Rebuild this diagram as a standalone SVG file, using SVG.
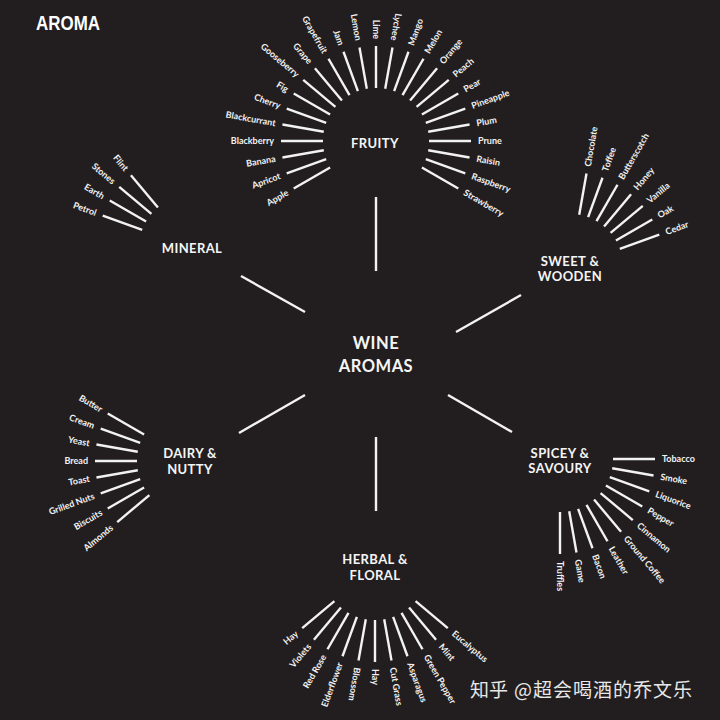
<svg xmlns="http://www.w3.org/2000/svg" width="720" height="720" viewBox="0 0 720 720">
<style>
.bg{fill:#221e1f}
line{stroke:#f2f2f2;stroke-width:2.4;stroke-linecap:butt}
.it{font-family:Lato,"Open Sans",sans-serif;font-weight:700;font-size:9px;fill:#f2f2f2}
.o text{text-anchor:start}
.i text{text-anchor:end}
.cat{font-family:Lato,"Open Sans",sans-serif;font-weight:700;font-size:13px;fill:#f5f5f5;text-anchor:middle;letter-spacing:0.4px}
.ctr{font-family:Lato,"Open Sans",sans-serif;font-weight:700;font-size:16.5px;fill:#f5f5f5;text-anchor:middle;letter-spacing:0.5px}
.wm{font-family:"Noto Sans CJK SC",sans-serif;font-size:19px;fill:#e8e8e8}
</style>
<rect class="bg" width="720" height="720"/>
<text x="36" y="29.5" font-family="Liberation Sans,sans-serif" font-weight="700" font-size="20" fill="#fff" textLength="64" lengthAdjust="spacingAndGlyphs">AROMA</text>

<g id="center">
<text class="ctr" x="376" y="349">WINE</text>
<text class="ctr" x="376" y="372">AROMAS</text>
</g>

<g id="connectors">
<line x1="376" y1="197" x2="376" y2="271"/>
<line x1="241" y1="276" x2="305" y2="312"/>
<line x1="456" y1="332" x2="521" y2="295"/>
<line x1="305" y1="395" x2="239" y2="433"/>
<line x1="448" y1="395" x2="512" y2="432"/>
<line x1="376" y1="437" x2="376" y2="511"/>
</g>

<g id="fruity">
<text class="cat" x="375" y="147.5">FRUITY</text>
<g class="it i">
<g transform="translate(376,141) rotate(-30)"><line x1="-95" y1="0" x2="-53" y2="0"/><text x="-102" y="3">Apple</text></g>
<g transform="translate(376,141) rotate(-20)"><line x1="-95" y1="0" x2="-53" y2="0"/><text x="-102" y="3">Apricot</text></g>
<g transform="translate(376,141) rotate(-10)"><line x1="-95" y1="0" x2="-53" y2="0"/><text x="-102" y="3">Banana</text></g>
<g transform="translate(376,141) rotate(0)"><line x1="-95" y1="0" x2="-53" y2="0"/><text x="-102" y="3">Blackberry</text></g>
<g transform="translate(376,141) rotate(10)"><line x1="-95" y1="0" x2="-53" y2="0"/><text x="-102" y="3">Blackcurrant</text></g>
<g transform="translate(376,141) rotate(20)"><line x1="-95" y1="0" x2="-53" y2="0"/><text x="-102" y="3">Cherry</text></g>
<g transform="translate(376,141) rotate(30)"><line x1="-95" y1="0" x2="-53" y2="0"/><text x="-102" y="3">Fig</text></g>
<g transform="translate(376,141) rotate(40)"><line x1="-95" y1="0" x2="-53" y2="0"/><text x="-102" y="3">Gooseberry</text></g>
<g transform="translate(376,141) rotate(50)"><line x1="-95" y1="0" x2="-53" y2="0"/><text x="-102" y="3">Grape</text></g>
<g transform="translate(376,141) rotate(60)"><line x1="-95" y1="0" x2="-53" y2="0"/><text x="-102" y="3">Grapefruit</text></g>
<g transform="translate(376,141) rotate(70)"><line x1="-95" y1="0" x2="-53" y2="0"/><text x="-102" y="3">Jam</text></g>
<g transform="translate(376,141) rotate(80)"><line x1="-95" y1="0" x2="-53" y2="0"/><text x="-102" y="3">Lemon</text></g>
<g transform="translate(376,141) rotate(90)"><line x1="-95" y1="0" x2="-53" y2="0"/><text x="-102" y="3">Lime</text></g>
<g transform="translate(376,141) rotate(100)"><line x1="-95" y1="0" x2="-53" y2="0"/><text x="-102" y="3">Lychee</text></g>
</g>
<g class="it o">
<g transform="translate(376,141) rotate(-70)"><line x1="53" y1="0" x2="95" y2="0"/><text x="102" y="3">Mango</text></g>
<g transform="translate(376,141) rotate(-60)"><line x1="53" y1="0" x2="95" y2="0"/><text x="102" y="3">Melon</text></g>
<g transform="translate(376,141) rotate(-50)"><line x1="53" y1="0" x2="95" y2="0"/><text x="102" y="3">Orange</text></g>
<g transform="translate(376,141) rotate(-40)"><line x1="53" y1="0" x2="95" y2="0"/><text x="102" y="3">Peach</text></g>
<g transform="translate(376,141) rotate(-30)"><line x1="53" y1="0" x2="95" y2="0"/><text x="102" y="3">Pear</text></g>
<g transform="translate(376,141) rotate(-20)"><line x1="53" y1="0" x2="95" y2="0"/><text x="102" y="3">Pineapple</text></g>
<g transform="translate(376,141) rotate(-10)"><line x1="53" y1="0" x2="95" y2="0"/><text x="102" y="3">Plum</text></g>
<g transform="translate(376,141) rotate(0)"><line x1="53" y1="0" x2="95" y2="0"/><text x="102" y="3">Prune</text></g>
<g transform="translate(376,141) rotate(10)"><line x1="53" y1="0" x2="95" y2="0"/><text x="102" y="3">Raisin</text></g>
<g transform="translate(376,141) rotate(20)"><line x1="53" y1="0" x2="95" y2="0"/><text x="102" y="3">Raspberry</text></g>
<g transform="translate(376,141) rotate(30)"><line x1="53" y1="0" x2="95" y2="0"/><text x="102" y="3">Strawberry</text></g>
</g>
</g>

<g id="mineral">
<text class="cat" x="192" y="253">MINERAL</text>
<g class="it i">
<g transform="translate(192,248) rotate(50)"><line x1="-95" y1="0" x2="-53" y2="0"/><text x="-102" y="3">Flint</text></g>
<g transform="translate(192,248) rotate(40)"><line x1="-95" y1="0" x2="-53" y2="0"/><text x="-102" y="3">Stones</text></g>
<g transform="translate(192,248) rotate(30)"><line x1="-95" y1="0" x2="-53" y2="0"/><text x="-102" y="3">Earth</text></g>
<g transform="translate(192,248) rotate(20)"><line x1="-95" y1="0" x2="-53" y2="0"/><text x="-102" y="3">Petrol</text></g>
</g>
</g>

<g id="sweet-wooden">
<text class="cat" x="570" y="265.5">SWEET &amp;</text>
<text class="cat" x="570" y="281">WOODEN</text>
<g class="it o">
<g transform="translate(570,267) rotate(-80)"><line x1="53" y1="0" x2="95" y2="0"/><text x="102" y="3">Chocolate</text></g>
<g transform="translate(570,267) rotate(-70)"><line x1="53" y1="0" x2="95" y2="0"/><text x="102" y="3">Toffee</text></g>
<g transform="translate(570,267) rotate(-60)"><line x1="53" y1="0" x2="95" y2="0"/><text x="102" y="3">Butterscotch</text></g>
<g transform="translate(570,267) rotate(-50)"><line x1="53" y1="0" x2="95" y2="0"/><text x="102" y="3">Honey</text></g>
<g transform="translate(570,267) rotate(-40)"><line x1="53" y1="0" x2="95" y2="0"/><text x="102" y="3">Vanilla</text></g>
<g transform="translate(570,267) rotate(-30)"><line x1="53" y1="0" x2="95" y2="0"/><text x="102" y="3">Oak</text></g>
<g transform="translate(570,267) rotate(-20)"><line x1="53" y1="0" x2="95" y2="0"/><text x="102" y="3">Cedar</text></g>
</g>
</g>

<g id="dairy-nutty">
<text class="cat" x="190" y="457.5">DAIRY &amp;</text>
<text class="cat" x="190" y="474">NUTTY</text>
<g class="it i">
<g transform="translate(190,461) rotate(30)"><line x1="-95" y1="0" x2="-53" y2="0"/><text x="-102" y="3">Butter</text></g>
<g transform="translate(190,461) rotate(20)"><line x1="-95" y1="0" x2="-53" y2="0"/><text x="-102" y="3">Cream</text></g>
<g transform="translate(190,461) rotate(10)"><line x1="-95" y1="0" x2="-53" y2="0"/><text x="-102" y="3">Yeast</text></g>
<g transform="translate(190,461) rotate(0)"><line x1="-95" y1="0" x2="-53" y2="0"/><text x="-102" y="3">Bread</text></g>
<g transform="translate(190,461) rotate(-10)"><line x1="-95" y1="0" x2="-53" y2="0"/><text x="-102" y="3">Toast</text></g>
<g transform="translate(190,461) rotate(-20)"><line x1="-95" y1="0" x2="-53" y2="0"/><text x="-102" y="3">Grilled Nuts</text></g>
<g transform="translate(190,461) rotate(-30)"><line x1="-95" y1="0" x2="-53" y2="0"/><text x="-102" y="3">Biscuits</text></g>
<g transform="translate(190,461) rotate(-40)"><line x1="-95" y1="0" x2="-53" y2="0"/><text x="-102" y="3">Almonds</text></g>
</g>
</g>

<g id="spicey-savoury">
<text class="cat" x="560" y="457.5">SPICEY &amp;</text>
<text class="cat" x="560" y="472.5">SAVOURY</text>
<g class="it o">
<g transform="translate(560,459) rotate(0)"><line x1="53" y1="0" x2="95" y2="0"/><text x="102" y="3">Tobacco</text></g>
<g transform="translate(560,459) rotate(10)"><line x1="53" y1="0" x2="95" y2="0"/><text x="102" y="3">Smoke</text></g>
<g transform="translate(560,459) rotate(20)"><line x1="53" y1="0" x2="95" y2="0"/><text x="102" y="3">Liquorice</text></g>
<g transform="translate(560,459) rotate(30)"><line x1="53" y1="0" x2="95" y2="0"/><text x="102" y="3">Pepper</text></g>
<g transform="translate(560,459) rotate(40)"><line x1="53" y1="0" x2="95" y2="0"/><text x="102" y="3">Cinnamon</text></g>
<g transform="translate(560,459) rotate(50)"><line x1="53" y1="0" x2="95" y2="0"/><text x="102" y="3">Ground Coffee</text></g>
<g transform="translate(560,459) rotate(60)"><line x1="53" y1="0" x2="95" y2="0"/><text x="102" y="3">Leather</text></g>
<g transform="translate(560,459) rotate(70)"><line x1="53" y1="0" x2="95" y2="0"/><text x="102" y="3">Bacon</text></g>
<g transform="translate(560,459) rotate(80)"><line x1="53" y1="0" x2="95" y2="0"/><text x="102" y="3">Game</text></g>
<g transform="translate(560,459) rotate(90)"><line x1="53" y1="0" x2="95" y2="0"/><text x="102" y="3">Truffles</text></g>
</g>
</g>

<g id="herbal-floral">
<text class="cat" x="375" y="563.5">HERBAL &amp;</text>
<text class="cat" x="375" y="580">FLORAL</text>
<g class="it i">
<g transform="translate(375,567) rotate(-40)"><line x1="-95" y1="0" x2="-53" y2="0"/><text x="-102" y="3">Hay</text></g>
<g transform="translate(375,567) rotate(-50)"><line x1="-95" y1="0" x2="-53" y2="0"/><text x="-102" y="3">Violets</text></g>
<g transform="translate(375,567) rotate(-60)"><line x1="-95" y1="0" x2="-53" y2="0"/><text x="-102" y="3">Red Rose</text></g>
<g transform="translate(375,567) rotate(-70)"><line x1="-95" y1="0" x2="-53" y2="0"/><text x="-102" y="3">Elderflower</text></g>
</g>
<g class="it o">
<g transform="translate(375,567) rotate(100)"><line x1="53" y1="0" x2="95" y2="0"/><text x="102" y="3">Blossom</text></g>
<g transform="translate(375,567) rotate(90)"><line x1="53" y1="0" x2="95" y2="0"/><text x="102" y="3">Hay</text></g>
<g transform="translate(375,567) rotate(80)"><line x1="53" y1="0" x2="95" y2="0"/><text x="102" y="3">Cut Grass</text></g>
<g transform="translate(375,567) rotate(70)"><line x1="53" y1="0" x2="95" y2="0"/><text x="102" y="3">Asparagus</text></g>
<g transform="translate(375,567) rotate(60)"><line x1="53" y1="0" x2="95" y2="0"/><text x="102" y="3">Green Pepper</text></g>
<g transform="translate(375,567) rotate(50)"><line x1="53" y1="0" x2="95" y2="0"/><text x="102" y="3">Mint</text></g>
<g transform="translate(375,567) rotate(40)"><line x1="53" y1="0" x2="95" y2="0"/><text x="102" y="3">Eucalyptus</text></g>
</g>
</g>

<g id="watermark">
<text class="wm" x="470" y="697">知乎</text>
<text class="wm" x="514" y="697" letter-spacing="1">@超会喝酒的乔文乐</text>
</g>
</svg>
